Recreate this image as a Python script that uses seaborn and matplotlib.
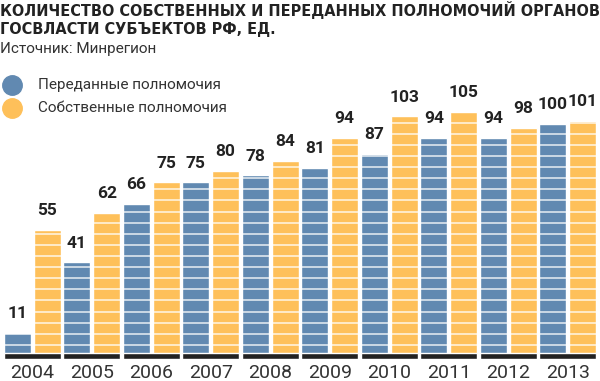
import numpy as np
import pandas as pd
import matplotlib
matplotlib.use("Agg")
import matplotlib.pyplot as plt
import seaborn as sns
from matplotlib import font_manager
from matplotlib.lines import Line2D

years = ["2004", "2005", "2006", "2007", "2008", "2009", "2010", "2011", "2012", "2013"]
transferred = [11, 41, 66, 75, 78, 81, 87, 94, 94, 100]
own = [55, 62, 75, 80, 84, 94, 103, 105, 98, 101]
series_names = ["Переданные полномочия", "Собственные полномочия"]
title_lines = ["КОЛИЧЕСТВО СОБСТВЕННЫХ И ПЕРЕДАННЫХ ПОЛНОМОЧИЙ ОРГАНОВ",
               "ГОСВЛАСТИ СУБЪЕКТОВ РФ, ЕД."]
source = "Источник: Минрегион"

BLUE = "#6189b1"
ORANGE = "#fec05a"
DARK = "#222222"
TEXT = "#333333"

sns.set_theme(style="white")

# look for a condensed / narrow bold face, fall back to Roboto
cond_family, cond_stretch = "Roboto", "normal"
for f in font_manager.fontManager.ttflist:
    st = str(f.stretch)
    if ("Narrow" in f.name or "Condensed" in f.name or st in ("condensed", "semi-condensed")) \
            and str(f.weight) in ("bold", "700", "600", "semibold"):
        cond_family, cond_stretch = f.name, (st if st in ("condensed", "semi-condensed") else "normal")
        break
plt.rcParams["font.family"] = ["Roboto", "DejaVu Sans"]
cond_kw = dict(family=[cond_family, "DejaVu Sans"], fontstretch=cond_stretch, fontweight="bold")

df = pd.DataFrame({
    "year": years * 2,
    "type": [series_names[0]] * len(years) + [series_names[1]] * len(years),
    "value": transferred + own,
})

W, H = 600, 381
fig = plt.figure(figsize=(W / 100, H / 100), dpi=100)
ax = fig.add_axes([2.5 / W, 22 / H, 595 / W, 259 / H])

sns.barplot(data=df, x="year", y="value", hue="type", palette=[BLUE, ORANGE],
            width=1.0, gap=0.1, saturation=1, legend=False, ax=ax, zorder=1)

for cont in ax.containers:
    ax.bar_label(cont, padding=8.5, fontsize=12.5, fontweight="bold",
                 family=["Roboto", "DejaVu Sans"], color=DARK, zorder=5)

# horizontal white stripes across bars
for yv in np.arange(6.0, 110, 4.72):
    ax.axhline(yv, color="white", lw=1.1, alpha=0.85, zorder=2)

# dark base band under each year group
ax.bar(np.arange(len(years)), [2.55] * len(years), width=0.95, bottom=0,
       color=DARK, zorder=4)

ax.set_xlim(-0.5, len(years) - 0.5)
ax.set_ylim(0, 110)
ax.set_xlabel("")
ax.set_ylabel("")
ax.set_yticks([])
ax.tick_params(axis="x", length=0, pad=3.5, labelsize=14, labelcolor=TEXT)
for s in ax.spines.values():
    s.set_visible(False)
ax.grid(False)

# titles
t1 = fig.text(0.0, 1 - 1 / H, title_lines[0], ha="left", va="top", fontsize=14.5,
              color=DARK, **cond_kw)
t2 = fig.text(0.0, 1 - 22 / H, title_lines[1], ha="left", va="top", fontsize=14.5,
              color=DARK, **cond_kw)
fig.canvas.draw()
r = fig.canvas.get_renderer()
w1 = t1.get_window_extent(r).width
scale = 598 / w1
t1.set_fontsize(14.5 * scale)
t2.set_fontsize(14.5 * scale)

fig.text(0.0, 1 - 41.5 / H, source, ha="left", va="top", fontsize=11, color=TEXT)

# legend
for i, (name, col) in enumerate(zip(series_names, [BLUE, ORANGE])):
    yc = 1 - (85 + 23 * i) / H
    fig.add_artist(Line2D([12 / W], [yc], marker="o", markersize=14, color=col,
                          linestyle="none", transform=fig.transFigure))
    fig.text(38 / W, yc, name, ha="left", va="center", fontsize=11, color=TEXT)

fig.savefig("out.png", dpi=100)
